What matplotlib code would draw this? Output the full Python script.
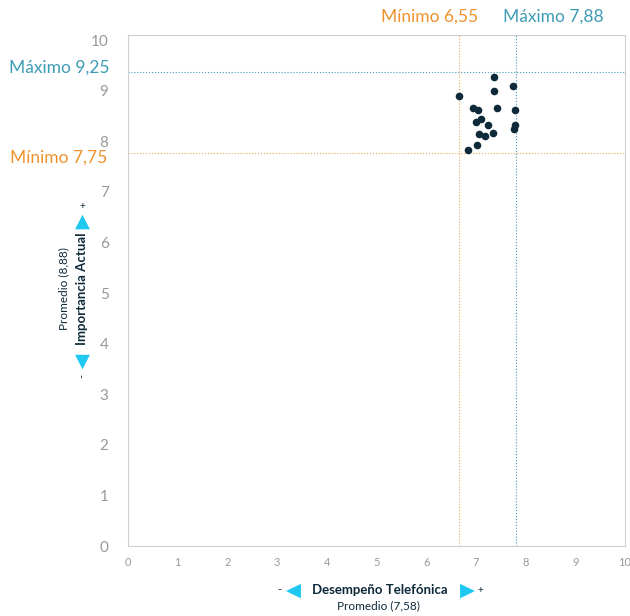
import matplotlib.pyplot as plt

plt.rcParams['font.family'] = ['Lato', 'DejaVu Sans']

# datos
desempeno = [7.37, 7.74, 6.67, 7.37, 6.95, 7.04, 7.43, 7.78, 7.11, 7.01,
             7.24, 7.79, 7.76, 7.07, 7.19, 7.34, 7.03, 6.85]
importancia = [9.27, 9.10, 8.90, 8.99, 8.65, 8.61, 8.66, 8.61, 8.43, 8.39,
               8.33, 8.33, 8.24, 8.14, 8.11, 8.17, 7.93, 7.82]

x_min, x_max = 6.65, 7.80
y_min, y_max = 7.76, 9.37
x_min_lbl, x_max_lbl = "Mínimo 6,55", "Máximo 7,88"
y_min_lbl, y_max_lbl = "Mínimo 7,75", "Máximo 9,25"
ticks = list(range(0, 11))

orange = '#F0922E'
blue = '#3E9CB6'
cyan = '#1FC8F0'
dark = '#0E2A3A'
gray = '#999999'

fig = plt.figure(figsize=(6.3, 6.16), dpi=100)
ax = fig.add_axes([128/630, 1 - 546/616, 497/630, 511/616])

ax.scatter(desempeno, importancia, s=20, color=dark, zorder=3)

ax.axvline(x_min, color=orange, lw=0.8, ls=':', alpha=0.8)
ax.axvline(x_max, color=blue, lw=0.8, ls=':')
ax.axhline(y_min, color=orange, lw=0.8, ls=':', alpha=0.8)
ax.axhline(y_max, color=blue, lw=0.8, ls=':')

ax.set_xlim(0, 10)
ax.set_ylim(0, 10.1)
ax.set_xticks(ticks)
ax.set_yticks(ticks)
ax.tick_params(axis='x', length=0, labelsize=8, labelcolor=gray, pad=8)
ax.tick_params(axis='y', length=0, labelsize=11, labelcolor=gray, pad=14)
for s in ax.spines.values():
    s.set_color('#CFCFCF')
    s.set_linewidth(0.8)

# etiquetas de minimo / maximo
fig.text(430/630, 1 - 17/616, x_min_lbl, color=orange, fontsize=12.5, ha='center', va='center')
fig.text(553/630, 1 - 17/616, x_max_lbl, color=blue, fontsize=12.5, ha='center', va='center')
fig.text(59/630, 1 - 68/616, y_max_lbl, color=blue, fontsize=12.5, ha='center', va='center')
fig.text(59/630, 1 - 158/616, y_min_lbl, color=orange, fontsize=12.5, ha='center', va='center')

# titulo eje x
fig.text(279/630, 1 - 590/616, "-", color=dark, fontsize=8, ha='center', va='center')
fig.text(293/630, 1 - 590/616, "◀", color=cyan, fontsize=14, ha='center', va='center')
fig.text(380/630, 1 - 590/616, "Desempeño Telefónica", color=dark, fontsize=9.5,
         fontweight='bold', ha='center', va='center')
fig.text(467/630, 1 - 590/616, "▶", color=cyan, fontsize=14, ha='center', va='center')
fig.text(480/630, 1 - 590/616, "+", color=dark, fontsize=7, ha='center', va='center')
fig.text(378/630, 1 - 606/616, "Promedio (7,58)", color=dark, fontsize=8.5, ha='center', va='center')

# titulo eje y
fig.text(82/630, 1 - 376/616, "-", color=dark, fontsize=8, ha='center', va='center', rotation=90)
fig.text(82/630, 1 - 361/616, "▼", color=cyan, fontsize=14, ha='center', va='center')
fig.text(82/630, 1 - 289/616, "Importancia Actual", color=dark, fontsize=9.5,
         fontweight='bold', ha='center', va='center', rotation=90)
fig.text(82/630, 1 - 221/616, "▲", color=cyan, fontsize=14, ha='center', va='center')
fig.text(82/630, 1 - 207/616, "+", color=dark, fontsize=7, ha='center', va='center')
fig.text(64/630, 1 - 289/616, "Promedio (8,88)", color=dark, fontsize=8.5, ha='center',
         va='center', rotation=90)

fig.savefig('out.png', dpi=100)
